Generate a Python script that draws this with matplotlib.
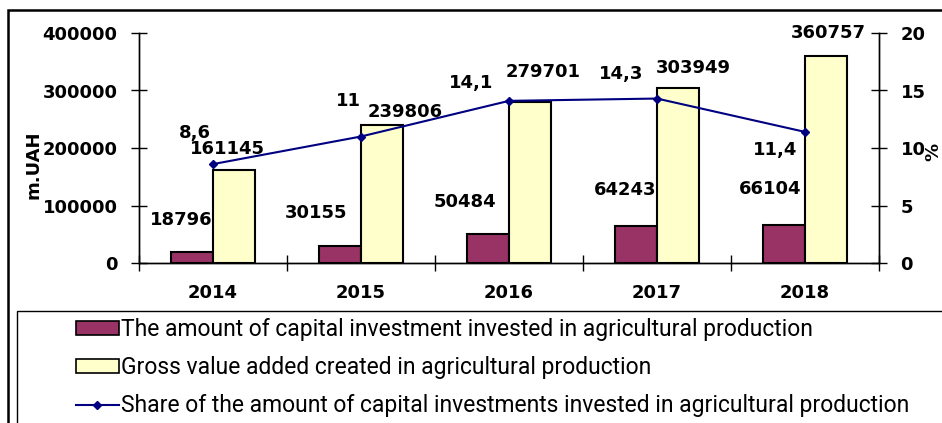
import matplotlib
matplotlib.use('Agg')
import matplotlib.pyplot as plt
from matplotlib.patches import Rectangle, Patch
from matplotlib.lines import Line2D

years = ['2014', '2015', '2016', '2017', '2018']
investment = [18796, 30155, 50484, 64243, 66104]
gross_value = [161145, 239806, 279701, 303949, 360757]
share = [8.6, 11, 14.1, 14.3, 11.4]
share_labels = ['8,6', '11', '14,1', '14,3', '11,4']

# label offsets in pixels (layout only)
inv_off = [(-11, 32), (-24, 33), (-23, 32), (-11, 36), (-14, 36)]
gva_off = [(-7, 21), (23, 13), (13, 30), (15, 20), (2, 23)]
share_off = [(-18, 31), (-13, 35), (-38, 18), (-36, 25), (-30, -18)]

purple = '#993366'
yellow = '#FFFFCC'
navy = '#000080'

plt.rcParams['font.family'] = ['DejaVu Sans']
W, H = 942, 423
fig = plt.figure(figsize=(W / 100, H / 100), dpi=100)
ax = fig.add_axes([139 / W, 1 - 263 / H, (879 - 139) / W, (263 - 33) / H])
ax2 = ax.twinx()

x = list(range(len(years)))
bw = 0.285
ax.bar([i - bw / 2 for i in x], investment, bw, color=purple, edgecolor='black', linewidth=1.5, zorder=2)
ax.bar([i + bw / 2 for i in x], gross_value, bw, color=yellow, edgecolor='black', linewidth=1.5, zorder=2)
ax2.plot(x, share, color=navy, marker='D', markersize=4, linewidth=1.5, zorder=3)

fs = 13
bold = dict(fontsize=fs, fontweight='bold', family='DejaVu Sans')
for i in x:
    ax.annotate(f'{investment[i]}', (i - bw / 2, investment[i]), xytext=inv_off[i],
                textcoords='offset pixels', ha='center', va='center', **bold)
    ax.annotate(f'{gross_value[i]}', (i + bw / 2, gross_value[i]), xytext=gva_off[i],
                textcoords='offset pixels', ha='center', va='center', **bold)
    ax2.annotate(share_labels[i], (i, share[i]), xytext=share_off[i],
                 textcoords='offset pixels', ha='center', va='center', **bold)

ax.set_xlim(-0.5, 4.5)
ax.set_ylim(0, 400000)
ax2.set_ylim(0, 20)
ax.set_yticks([0, 100000, 200000, 300000, 400000])
ax2.set_yticks([0, 5, 10, 15, 20])
ax.set_xticks(x)
ax.set_xticklabels(years, **bold)
ax.set_xticks([-0.5, 0.5, 1.5, 2.5, 3.5, 4.5], minor=True)
ax.tick_params(axis='x', which='major', length=0, pad=15)
ax.tick_params(axis='x', which='minor', direction='inout', length=12, width=1)
ax.tick_params(axis='y', direction='inout', length=11, width=1, pad=10)
ax2.tick_params(axis='y', direction='inout', length=11, width=1, pad=10)
ax.set_yticklabels(['0', '100000', '200000', '300000', '400000'], **bold)
ax2.set_yticklabels(['0', '5', '10', '15', '20'], **bold)

for a in (ax, ax2):
    a.spines['top'].set_visible(False)
    for s in a.spines.values():
        s.set_linewidth(1)
    a.patch.set_visible(False)

fig.text(33 / W, 1 - 165 / H, 'm.UAH', rotation=90, ha='center', va='center', **bold)
fig.text(933 / W, 1 - 152 / H, '%', rotation=90, ha='center', va='center', **bold)

# outer frame and legend box
fig.add_artist(Rectangle((8 / W, -0.1), 1.2, (H - 10) / H + 0.1, transform=fig.transFigure,
                         fill=False, edgecolor='black', linewidth=1.8))
fig.add_artist(Rectangle((17 / W, -0.1), 1.2, (H - 311) / H + 0.1, transform=fig.transFigure,
                         fill=False, edgecolor='black', linewidth=1))

handles = [Patch(facecolor=purple, edgecolor='black', linewidth=1.2),
           Patch(facecolor=yellow, edgecolor='black', linewidth=1.2),
           Line2D([0], [0], color=navy, marker='D', markersize=4, linewidth=1.5)]
names = ['The amount of capital investment invested in agricultural production',
         'Gross value added created in agricultural production',
         'Share of the amount of capital investments invested in agricultural production']
fig.legend(handles, names, loc='upper left', bbox_to_anchor=(67 / W, 1 - 309 / H), frameon=False,
           prop={'family': 'Roboto', 'size': 16.5},
           handlelength=1.85, handleheight=0.6, handletextpad=0.1, labelspacing=0.66, borderaxespad=0)

fig.savefig('out.png', dpi=100)
